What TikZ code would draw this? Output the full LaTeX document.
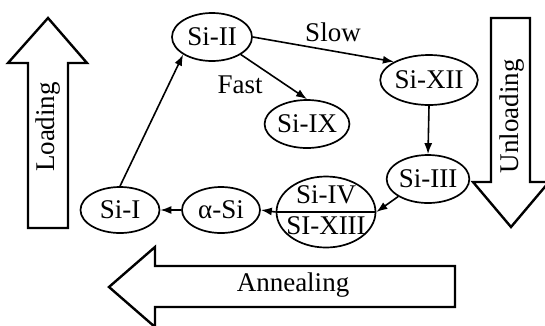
\documentclass[tikz,border=0pt]{standalone}
\usepackage{fontspec}
\setmainfont{Liberation Serif}
\usetikzlibrary{shapes.geometric,arrows.meta}
\begin{document}
\begin{tikzpicture}[x=1pt,y=-1pt,
  phase/.style={draw,ellipse,line width=1.7pt,inner sep=0pt},
  conn/.style={line width=1.6pt,-{Latex[length=11pt,width=8pt]}},
  blockarrow/.style={draw,line width=2.4pt,line join=miter},
  lbl/.style={font=\fontsize{27}{30}\selectfont}]
\useasboundingbox (0,0) rectangle (545,325);

% block arrows
\draw[blockarrow] (48,18) -- (87,63) -- (68,63) -- (68,228) -- (28,228) -- (28,63) -- (8,63) -- cycle;
\node[lbl,rotate=90] (loading) at (48,127) {Loading};

\draw[blockarrow] (511,227) -- (549,182) -- (530,182) -- (530,18) -- (491,18) -- (491,182) -- (473,182) -- cycle;
\node[lbl,rotate=90] (unloading) at (512,116) {Unloading};

\draw[blockarrow] (109,287) -- (155,247) -- (155,266) -- (455,266) -- (455,307) -- (155,307) -- (155,327) -- cycle;
\node[lbl] (annealing) at (293,285) {Annealing};

% phases
\node[phase,lbl,minimum width=80pt,minimum height=48pt] (si2) at (212,37) {Si-II};
\node[phase,lbl,minimum width=80pt,minimum height=48pt] (si9) at (307,124) {Si-IX};
\node[phase,lbl,minimum width=81pt,minimum height=50pt] (si12) at (429,80) {Si-XII};
\node[phase,lbl,minimum width=80pt,minimum height=48pt] (si3) at (428,179) {Si-III};
\node[phase,minimum width=99pt,minimum height=71pt] (si4) at (326,212) {};
\node[lbl] (si4a) at (326,195) {Si-IV};
\node[lbl] (si13) at (326,226) {SI-XIII};
\node[phase,lbl,minimum width=78pt,minimum height=46pt] (asi) at (221,210) {α-Si};
\node[phase,lbl,minimum width=79pt,minimum height=46pt] (si1) at (120,210) {Si-I};

% divider across the Si-IV / Si-XIII ellipse
\draw[line width=1.6pt] (si4.west) -- (si4.east);

% transitions
\draw[conn] (si1.north) -- (si2.south west);
\draw[conn] (si2.east) -- (si12.north west);
\draw[conn] (si2.south east) -- (si9.north);
\draw[conn] (si12.south) -- (si3.north);
\draw[conn] (si3.south west) -- (si4.east);
\draw[conn] (si4.west) -- (asi.east);
\draw[conn] (asi.west) -- (si1.east);

\node[lbl] (slow) at (333,32) {Slow};
\node[lbl] (fast) at (240,85) {Fast};
\end{tikzpicture}
\end{document}
